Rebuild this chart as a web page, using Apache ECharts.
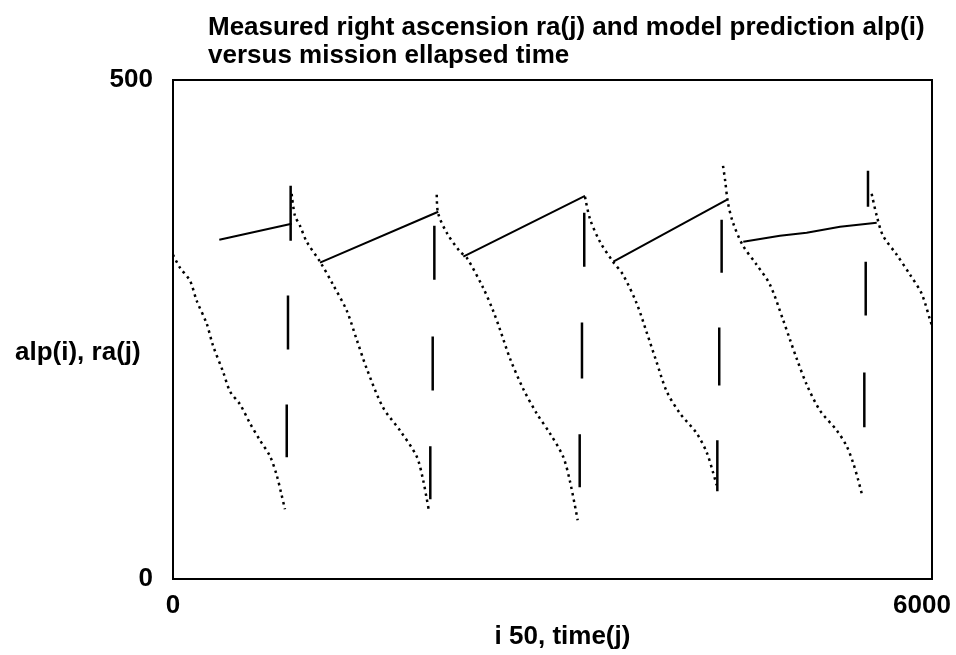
<!DOCTYPE html>
<html>
<head>
<meta charset="utf-8">
<title>Measured right ascension ra(j) and model prediction alp(i)</title>
<script src="https://cdn.jsdelivr.net/npm/echarts@6/dist/echarts.min.js"></script>
<style>
    html, body { margin: 0; padding: 0; background: #ffffff; }
    #chart { width: 956px; height: 655px; }
</style>
</head>
<body>
<div id="chart"></div>
<script>
    // model prediction alp(i): one falling arc per cycle, null = pen up
    var alpTime = [
        0, 55, 134, 187, 266, 316, 395, 451, 530, 609, 688, 767, 820, 859, 885, null,
        938, 964, 1004, 1057, 1162, 1265, 1373, 1452, 1531, 1660, 1794, 1926, 1976, 2005, 2024, null,
        2085, 2095, 2164, 2269, 2322, 2451, 2530, 2585, 2664, 2767, 2875, 2980, 3083, 3138, 3199, null,
        3257, 3296, 3375, 3478, 3557, 3666, 3745, 3824, 3903, 4008, 4140, 4219, 4269, 4298, null,
        4348, 4364, 4387, 4427, 4506, 4614, 4719, 4822, 4877, 4930, 5009, 5114, 5247, 5326, 5375, 5415, 5444, null,
        5523, 5563, 5613, 5721, 5826, 5918, 5984, 6000
    ];
    var alpValue = [
        325, 312, 299, 279, 256, 234, 208, 188, 175, 156, 139, 123, 104, 84, 70, null,
        386, 364, 354, 338, 318, 295, 269, 240, 211, 172, 149, 123, 100, 81, 68, null,
        385, 367, 347, 328, 322, 292, 269, 250, 221, 191, 166, 146, 123, 98, 59, null,
        383, 361, 338, 318, 305, 276, 247, 217, 188, 166, 146, 127, 107, 94, null,
        414, 400, 377, 357, 334, 315, 295, 260, 240, 221, 195, 169, 149, 133, 117, 100, 86, null,
        386, 364, 344, 325, 305, 286, 260, 254
    ];

    // solid connecting line between cycles
    var trendTime  = [366, 938, null, 1162, 2097, null, 2295, 3257, null, 3481, 4377, null, 4508, 4798, 5009, 5273, 5563];
    var trendValue = [340, 356, null, 317, 368, null, 323, 384, null, 318, 380, null, 338, 344, 347, 353, 357];

    // measured ra(j): short vertical strokes near the end of each cycle
    var raTime   = [930, 909, 899, 2066, 2053, 2034, 3251, 3233, 3215, 4337, 4318, 4303, 5494, 5476, 5465];
    var raTop    = [394, 284, 175, 354, 243, 133, 367, 257, 145, 360, 252, 139, 409, 318, 207];
    var raBottom = [339, 230, 122, 300, 189, 80, 313, 201, 92, 307, 194, 88, 373, 264, 152];

    var xTicks = [0, 6000];
    var yTicks = [0, 500];

    var FONT = 'Liberation Sans';

    function pairs(xs, ys) {
        var out = [];
        for (var i = 0; i < xs.length; i++) {
            out.push(xs[i] == null ? ['-', '-'] : [xs[i], ys[i]]);
        }
        return out;
    }

    function strokes() {
        var out = [];
        for (var i = 0; i < raTime.length; i++) {
            out.push([raTime[i], raTop[i]], [raTime[i], raBottom[i]], ['-', '-']);
        }
        return out;
    }

    var labelFont = { color: '#000', fontFamily: FONT, fontWeight: 'bold', fontSize: 26 };

    var chart = echarts.init(document.getElementById('chart'));
    chart.setOption({
        animation: false,
        backgroundColor: '#ffffff',
        title: [
            {
                text: 'Measured right ascension ra(j) and model prediction alp(i)\nversus mission ellapsed time',
                left: 203,
                top: 9,
                textStyle: { color: '#000', fontFamily: FONT, fontWeight: 'bold', fontSize: 26, lineHeight: 28 }
            },
            {
                text: 'alp(i), ra(j)',
                left: 10,
                top: 335,
                textStyle: labelFont
            }
        ],
        grid: {
            left: 173, right: 24, top: 80, bottom: 62,
            show: true, borderColor: '#000', borderWidth: 2
        },
        xAxis: {
            type: 'value',
            min: xTicks[0],
            max: xTicks[xTicks.length - 1],
            interval: xTicks[1] - xTicks[0],
            name: 'i 50, time(j)',
            nameLocation: 'middle',
            nameGap: 28,
            nameTextStyle: Object.assign({ padding: [0, 0, 0, 20] }, labelFont),
            axisLine: { lineStyle: { color: '#000', width: 2 } },
            axisTick: { show: false },
            splitLine: { show: false },
            axisLabel: Object.assign({
                margin: 14,
                formatter: function (v) {
                    return v === xTicks[xTicks.length - 1] ? '{r|' + v + '}' : String(v);
                },
                rich: { r: Object.assign({ padding: [0, 20, 0, 0] }, labelFont) }
            }, labelFont)
        },
        yAxis: {
            type: 'value',
            min: yTicks[0],
            max: yTicks[yTicks.length - 1],
            interval: yTicks[1] - yTicks[0],
            axisLine: { show: true, lineStyle: { color: '#000', width: 2 } },
            axisTick: { show: false },
            splitLine: { show: false },
            axisLabel: Object.assign({ margin: 20 }, labelFont)
        },
        series: [
            {
                name: 'alp(i)',
                type: 'line',
                data: pairs(alpTime, alpValue),
                showSymbol: false,
                smooth: 0.3,
                connectNulls: false,
                lineStyle: { color: '#000', width: 2.5, type: [2.5, 4] }
            },
            {
                name: 'trend',
                type: 'line',
                data: pairs(trendTime, trendValue),
                showSymbol: false,
                connectNulls: false,
                lineStyle: { color: '#000', width: 2 }
            },
            {
                name: 'ra(j)',
                type: 'line',
                data: strokes(),
                showSymbol: false,
                connectNulls: false,
                lineStyle: { color: '#000', width: 2.5 }
            }
        ]
    });
</script>
</body>
</html>
